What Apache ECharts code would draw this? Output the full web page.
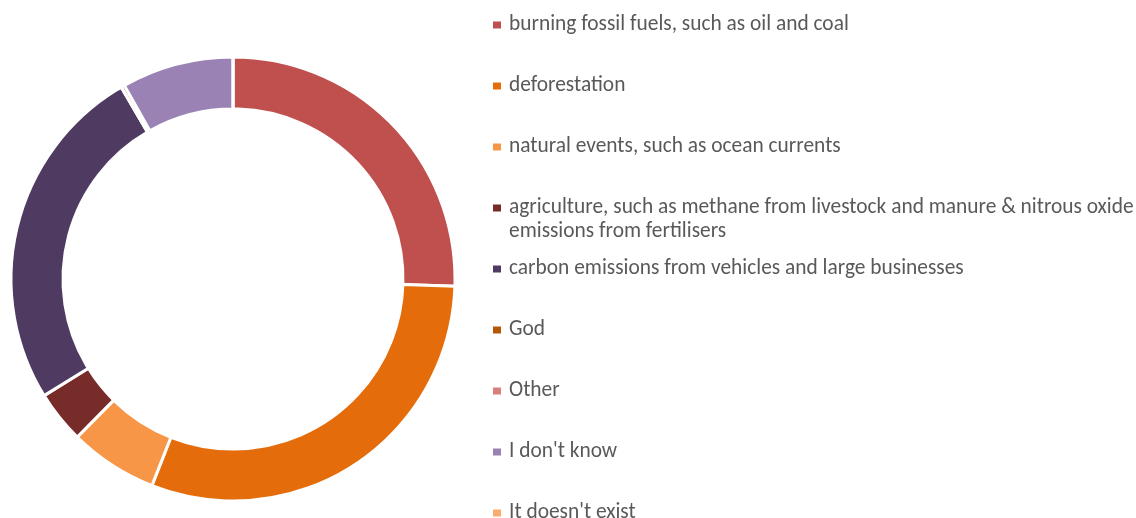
<!DOCTYPE html>
<html>
<head>
<meta charset="utf-8">
<script src="https://cdn.jsdelivr.net/npm/echarts@6/dist/echarts.min.js"></script>
<style>
    html, body { margin: 0; padding: 0; background: #fff; }
    #chart { width: 1136px; height: 518px; }
</style>
</head>
<body>
<div id="chart"></div>
<script>
const causes = [
    'burning fossil fuels, such as oil and coal',
    'deforestation',
    'natural events, such as ocean currents',
    'agriculture, such as methane from livestock and manure & nitrous oxide emissions from fertilisers',
    'carbon emissions from vehicles and large businesses',
    'God',
    'Other',
    'I don\'t know',
    'It doesn\'t exist'
];
const shares = [25.4, 30.3, 6.4, 3.8, 25.3, 0, 0.25, 8.1, 0];
const colors = ['#C0504D', '#E46C0A', '#F79646', '#772C2A', '#4F3B62', '#B65708', '#D9807D', '#9A83B4', '#F9AC6E'];

const chart = echarts.init(document.getElementById('chart'));
const fontFamily = "Carlito, 'Liberation Sans Narrow', 'Noto Sans', sans-serif";

function legendBlock(names, top, extra) {
    return Object.assign({
        orient: 'vertical',
        left: 493,
        top: top,
        height: 400,
        padding: 0,
        icon: 'rect',
        itemWidth: 8,
        itemHeight: 7,
        itemGap: 37,
        selectedMode: false,
        itemStyle: { borderWidth: 0 },
        data: names,
        formatter: function (name) {
            return name.replace(' emissions from fertilisers', '\nemissions from fertilisers');
        },
        textStyle: {
            fontFamily: fontFamily,
            fontSize: 21.4,
            lineHeight: 24,
            color: '#595959',
            padding: [0, 0, 0, 3]
        }
    }, extra || {});
}

chart.setOption({
    backgroundColor: '#fff',
    color: colors,
    legend: [
        legendBlock(causes.slice(0, 3), 13),
        // two-line entry: square sits beside the first line, as in the original
        legendBlock(causes.slice(3, 4), 196, {
            icon: 'path://M0,0L8,0L8,7L0,7Z M0,31L0.01,31L0,31Z',
            itemHeight: 31
        }),
        legendBlock(causes.slice(4), 257)
    ],
    series: [{
        type: 'pie',
        center: [233, 279],
        radius: [170, 222],
        startAngle: 90,
        clockwise: true,
        avoidLabelOverlap: false,
        label: { show: false },
        labelLine: { show: false },
        emphasis: { disabled: true },
        itemStyle: {
            borderColor: '#fff',
            borderWidth: 3
        },
        data: causes.map(function (name, i) {
            return { name: name, value: shares[i] };
        })
    }]
});
</script>
</body>
</html>
